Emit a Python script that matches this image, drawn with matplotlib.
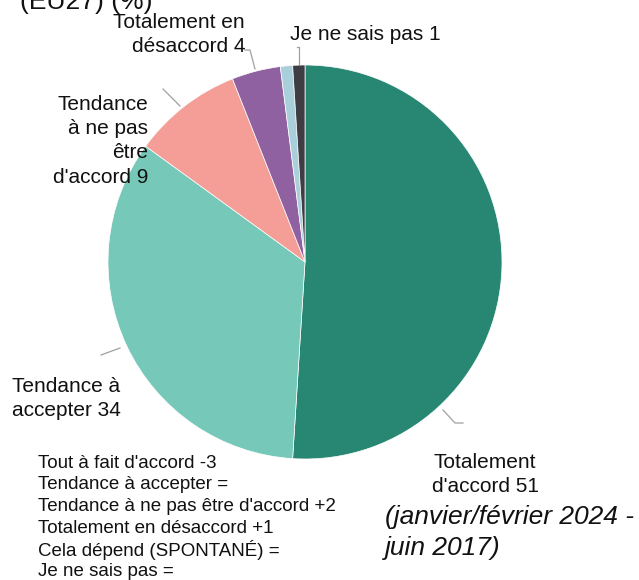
import matplotlib.pyplot as plt

plt.rcParams['font.family'] = ['Liberation Sans', 'DejaVu Sans']

# data
categories = ["Totalement d'accord", "Tendance à accepter", "Tendance à ne pas être d'accord",
              "Totalement en désaccord", "Cela dépend (SPONTANÉ)", "Je ne sais pas"]
values = [51, 34, 9, 4, 1, 1]
colors = ["#288772", "#76c8b9", "#f59e98", "#9061a1", "#a9cfdb", "#3d3d43"]

changes = ["Tout à fait d'accord -3", "Tendance à accepter =", "Tendance à ne pas être d'accord +2",
           "Totalement en désaccord +1", "Cela dépend (SPONTANÉ) =", "Je ne sais pas ="]

W, H = 639, 580
fig = plt.figure(figsize=(W / 100, H / 100), dpi=100)
ax = fig.add_axes([0, 0, 1, 1])

ax.pie(values, colors=colors, startangle=90, counterclock=False,
       center=(305, H - 262), radius=197,
       wedgeprops=dict(linewidth=0.5, edgecolor="white"))
ax.set_xlim(0, W)
ax.set_ylim(0, H)
ax.set_aspect("equal")
ax.axis("off")


def put(x, y, lines, ha="left", size=15, dy=24.5, style="normal"):
    for i, t in enumerate(lines):
        ax.text(x, H - (y + i * dy), t, ha=ha, va="center", fontsize=size,
                fontstyle=style, color="#111111")


# title remnant (cut at top, as in the source)
ax.text(20, H - 9, "(EU27) (%)", ha="left", va="baseline", fontsize=19, color="#111111")

# slice labels
put(485, 462, ["Totalement", "d'accord " + str(values[0])], ha="center")
put(12, 386, ["Tendance à", "accepter " + str(values[1])])
put(148, 104, ["Tendance", "à ne pas", "être", "d'accord " + str(values[2])], ha="right")
put(245, 22, ["Totalement en", "désaccord " + str(values[3])], ha="right")
put(290, 35, ["Je ne sais pas " + str(values[5])])

# leader lines
lc = "#a0a0a0"
leaders = [
    [(443, 410), (455, 423), (463, 423)],
    [(101, 355), (120, 348)],
    [(163, 89), (180, 106)],
    [(245, 50), (250, 50), (255, 69)],
    [(297, 47), (299, 47), (299, 64)],
]
for seg in leaders:
    xs = [p[0] for p in seg]
    ys = [H - p[1] for p in seg]
    ax.plot(xs, ys, color=lc, linewidth=0.9)

# change list
put(38, 463, changes, size=13.5, dy=21.8)
put(385, 517, ["(janvier/février 2024 -", "juin 2017)"], size=19, dy=31, style="italic")

fig.savefig("out.png", dpi=100)
